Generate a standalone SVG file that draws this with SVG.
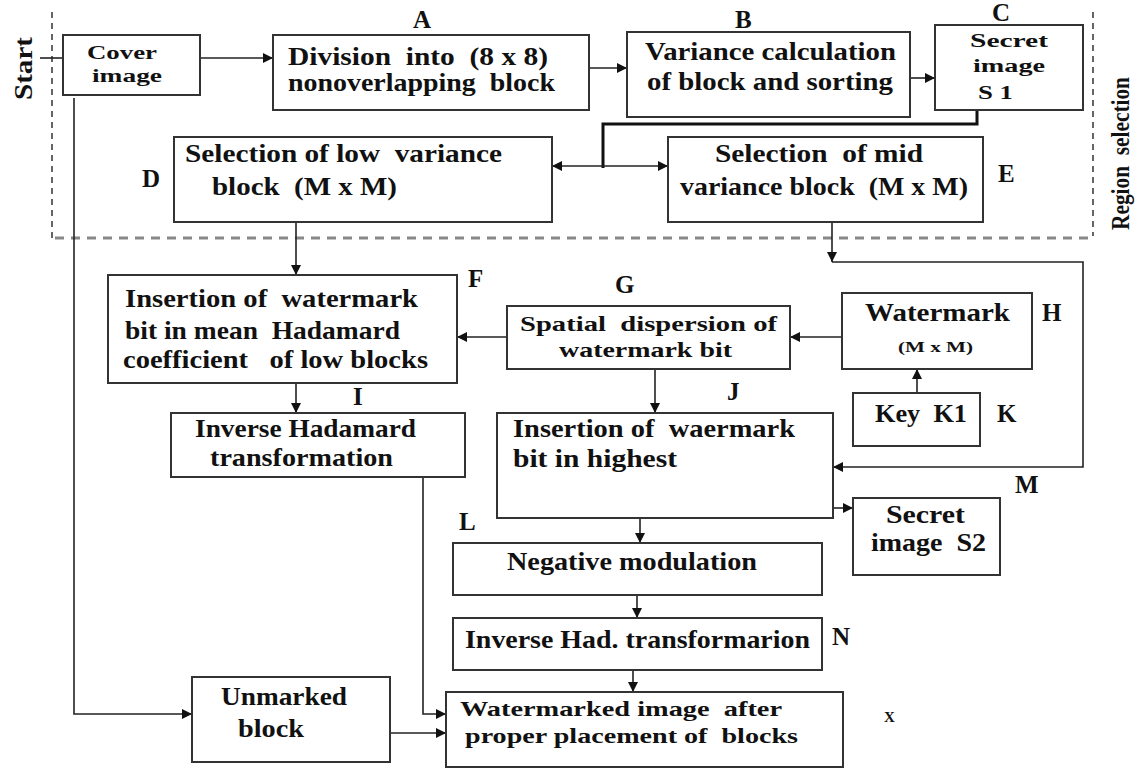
<svg xmlns="http://www.w3.org/2000/svg" width="1138" height="769" viewBox="0 0 1138 769" font-family="'Liberation Serif', 'DejaVu Serif', 'Times New Roman', serif">
  <style>
    .box { fill: #fff; stroke: #333; stroke-width: 2; }
    .t { font-family: 'Liberation Serif', 'DejaVu Serif', 'Times New Roman', serif; font-weight: bold; font-size: 25px; fill: #111; }
    .s { font-size: 21px; }
    .xs { font-size: 18px; }
    .lbl { font-family: 'Liberation Serif', 'DejaVu Serif', 'Times New Roman', serif; font-weight: bold; font-size: 25px; fill: #111; }
    .ln { fill: none; stroke: #222; stroke-width: 1.6; }
    .thick { fill: none; stroke: #111; stroke-width: 3; }
  </style>
  <defs>
    <marker id="ah" viewBox="0 0 10 10" refX="10" refY="5" markerWidth="11" markerHeight="10" markerUnits="userSpaceOnUse" orient="auto-start-reverse">
      <path d="M0,0 L10,5 L0,10 z" fill="#111"/>
    </marker>
  </defs>
  <rect width="1138" height="769" fill="#fff"/>

  <!-- region selection frame -->
  <g id="region">
    <line x1="52" y1="12" x2="52" y2="238" stroke="#333" stroke-width="1.5" stroke-dasharray="6,5"/>
    <line x1="1093" y1="12" x2="1093" y2="236" stroke="#333" stroke-width="1.5" stroke-dasharray="6,5"/>
    <line x1="55" y1="238" x2="1093" y2="238" stroke="#888" stroke-width="3" stroke-dasharray="9,7"/>
    <text class="t" transform="translate(32,100) rotate(-90)" textLength="63" lengthAdjust="spacingAndGlyphs">Start</text>
    <text class="t" transform="translate(1129,230) rotate(-90)" textLength="153" lengthAdjust="spacingAndGlyphs" xml:space="preserve">Region  selection</text>
  </g>

  <!-- connectors -->
  <g id="connectors">
    <line class="ln" x1="40" y1="58" x2="63" y2="58"/>
    <line class="ln" x1="200" y1="58" x2="273" y2="58" marker-end="url(#ah)"/>
    <line class="ln" x1="589" y1="68" x2="627" y2="68" marker-end="url(#ah)"/>
    <line class="ln" x1="910" y1="78" x2="935" y2="78" marker-end="url(#ah)"/>
    <polyline class="thick" points="977,110 977,124 603,124 603,168"/>
    <line class="ln" x1="603" y1="166" x2="552" y2="166" marker-end="url(#ah)"/>
    <line class="ln" x1="603" y1="166" x2="668" y2="166" marker-end="url(#ah)"/>
    <line class="ln" x1="296" y1="222" x2="296" y2="275" marker-end="url(#ah)"/>
    <line class="ln" x1="832" y1="222" x2="832" y2="262" marker-end="url(#ah)"/>
    <polyline class="ln" points="832,262 1083,262 1083,467 833,467" marker-end="url(#ah)"/>
    <line class="ln" x1="842" y1="337" x2="790" y2="337" marker-end="url(#ah)"/>
    <line class="ln" x1="507" y1="337" x2="457" y2="337" marker-end="url(#ah)"/>
    <line class="ln" x1="917" y1="393" x2="917" y2="369" marker-end="url(#ah)"/>
    <line class="ln" x1="655" y1="369" x2="655" y2="413" marker-end="url(#ah)"/>
    <line class="ln" x1="296" y1="383" x2="296" y2="413" marker-end="url(#ah)"/>
    <line class="ln" x1="833" y1="508" x2="853" y2="508" marker-end="url(#ah)"/>
    <line class="ln" x1="640" y1="518" x2="640" y2="543" marker-end="url(#ah)"/>
    <line class="ln" x1="637" y1="595" x2="637" y2="618" marker-end="url(#ah)"/>
    <line class="ln" x1="633" y1="670" x2="633" y2="692" marker-end="url(#ah)"/>
    <polyline class="ln" points="74,98 74,714 192,714" marker-end="url(#ah)"/>
    <polyline class="ln" points="423,477 423,714 446,714" marker-end="url(#ah)"/>
    <line class="ln" x1="390" y1="733" x2="446" y2="733" marker-end="url(#ah)"/>
  </g>

  <g id="cover">
    <rect class="box" x="63" y="35" width="137" height="60"/>
    <text class="t xs" x="87" y="59" textLength="70" lengthAdjust="spacingAndGlyphs">Cover</text>
    <text class="t xs" x="92" y="82" textLength="70" lengthAdjust="spacingAndGlyphs">image</text>
  </g>

  <g id="division">
    <rect class="box" x="273" y="35" width="316" height="75"/>
    <text class="t" x="288" y="65" textLength="260" lengthAdjust="spacingAndGlyphs" xml:space="preserve">Division  into  (8 x 8)</text>
    <text class="t" x="288" y="91" textLength="267" lengthAdjust="spacingAndGlyphs" xml:space="preserve">nonoverlapping  block</text>
    <text class="lbl" x="413" y="28">A</text>
  </g>

  <g id="variance">
    <rect class="box" x="627" y="32" width="283" height="85"/>
    <text class="t" x="645" y="60" textLength="251" lengthAdjust="spacingAndGlyphs">Variance calculation</text>
    <text class="t" x="647" y="90" textLength="246" lengthAdjust="spacingAndGlyphs">of block and sorting</text>
    <text class="lbl" x="735" y="28">B</text>
  </g>

  <g id="secret1">
    <rect class="box" x="935" y="25" width="148" height="85"/>
    <text class="t xs" x="970" y="47" textLength="78" lengthAdjust="spacingAndGlyphs">Secret</text>
    <text class="t xs" x="973" y="72" textLength="72" lengthAdjust="spacingAndGlyphs">image</text>
    <text class="t xs" x="978" y="99" textLength="35" lengthAdjust="spacingAndGlyphs">S 1</text>
    <text class="lbl" x="992" y="21">C</text>
  </g>

  <g id="lowsel">
    <rect class="box" x="174" y="137" width="378" height="85"/>
    <text class="t" x="185" y="162" textLength="317" lengthAdjust="spacingAndGlyphs" xml:space="preserve">Selection of low  variance</text>
    <text class="t" x="212" y="195" textLength="185" lengthAdjust="spacingAndGlyphs" xml:space="preserve">block  (M x M)</text>
    <text class="lbl" x="142" y="187">D</text>
  </g>

  <g id="midsel">
    <rect class="box" x="668" y="137" width="315" height="85"/>
    <text class="t" x="715" y="162" textLength="208" lengthAdjust="spacingAndGlyphs" xml:space="preserve">Selection  of mid</text>
    <text class="t" x="680" y="195" textLength="288" lengthAdjust="spacingAndGlyphs" xml:space="preserve">variance block  (M x M)</text>
    <text class="lbl" x="998" y="182">E</text>
  </g>

  <g id="insertlow">
    <rect class="box" x="108" y="275" width="349" height="108"/>
    <text class="t" x="125" y="307" textLength="293" lengthAdjust="spacingAndGlyphs" xml:space="preserve">Insertion of  watermark</text>
    <text class="t" x="125" y="339" textLength="275" lengthAdjust="spacingAndGlyphs" xml:space="preserve">bit in mean  Hadamard</text>
    <text class="t" x="123" y="368" textLength="305" lengthAdjust="spacingAndGlyphs" xml:space="preserve">coefficient   of low blocks</text>
    <text class="lbl" x="468" y="287">F</text>
  </g>

  <g id="spatial">
    <rect class="box" x="507" y="306" width="283" height="63"/>
    <text class="t s" x="520" y="331" textLength="257" lengthAdjust="spacingAndGlyphs" xml:space="preserve">Spatial  dispersion of</text>
    <text class="t s" x="559" y="357" textLength="173" lengthAdjust="spacingAndGlyphs">watermark bit</text>
    <text class="lbl" x="615" y="293">G</text>
  </g>

  <g id="watermark">
    <rect class="box" x="842" y="293" width="190" height="76"/>
    <text class="t" x="865" y="321" textLength="145" lengthAdjust="spacingAndGlyphs">Watermark</text>
    <text class="t" x="898" y="352" textLength="75" lengthAdjust="spacingAndGlyphs" style="font-size:15px">(M x M)</text>
    <text class="lbl" x="1042" y="321">H</text>
  </g>

  <g id="key">
    <rect class="box" x="853" y="393" width="127" height="53"/>
    <text class="t" x="875" y="422" textLength="92" lengthAdjust="spacingAndGlyphs" xml:space="preserve">Key  K1</text>
    <text class="lbl" x="997" y="422">K</text>
  </g>

  <g id="inversehad">
    <rect class="box" x="171" y="413" width="294" height="64"/>
    <text class="t" x="195" y="437" textLength="221" lengthAdjust="spacingAndGlyphs">Inverse Hadamard</text>
    <text class="t" x="210" y="466" textLength="183" lengthAdjust="spacingAndGlyphs">transformation</text>
    <text class="lbl" x="353" y="405">I</text>
  </g>

  <g id="inserthigh">
    <rect class="box" x="497" y="413" width="336" height="105"/>
    <text class="t" x="513" y="437" textLength="282" lengthAdjust="spacingAndGlyphs" xml:space="preserve">Insertion of  waermark</text>
    <text class="t" x="513" y="467" textLength="164" lengthAdjust="spacingAndGlyphs">bit in highest</text>
    <text class="lbl" x="727" y="400">J</text>
  </g>

  <g id="secret2">
    <rect class="box" x="853" y="498" width="147" height="77"/>
    <text class="t" x="886" y="523" textLength="79" lengthAdjust="spacingAndGlyphs">Secret</text>
    <text class="t" x="871" y="551" textLength="115" lengthAdjust="spacingAndGlyphs" xml:space="preserve">image  S2</text>
    <text class="lbl" x="1015" y="493">M</text>
  </g>

  <g id="negmod">
    <rect class="box" x="453" y="543" width="369" height="52"/>
    <text class="t" x="507" y="570" textLength="250" lengthAdjust="spacingAndGlyphs">Negative modulation</text>
    <text class="lbl" x="459" y="530">L</text>
  </g>

  <g id="invhad2">
    <rect class="box" x="453" y="618" width="369" height="52"/>
    <text class="t" x="465" y="648" textLength="345" lengthAdjust="spacingAndGlyphs">Inverse Had. transformarion</text>
    <text class="lbl" x="832" y="645">N</text>
  </g>

  <g id="unmarked">
    <rect class="box" x="192" y="677" width="198" height="85"/>
    <text class="t" x="221" y="705" textLength="126" lengthAdjust="spacingAndGlyphs">Unmarked</text>
    <text class="t" x="238" y="737" textLength="66" lengthAdjust="spacingAndGlyphs">block</text>
  </g>

  <g id="watermarked">
    <rect class="box" x="446" y="692" width="397" height="75"/>
    <text class="t s" x="460" y="716" textLength="322" lengthAdjust="spacingAndGlyphs" xml:space="preserve">Watermarked image  after</text>
    <text class="t s" x="465" y="743" textLength="333" lengthAdjust="spacingAndGlyphs" xml:space="preserve">proper placement of  blocks</text>
    <text class="lbl" x="884" y="722" style="font-size:15px">X</text>
  </g>
</svg>
